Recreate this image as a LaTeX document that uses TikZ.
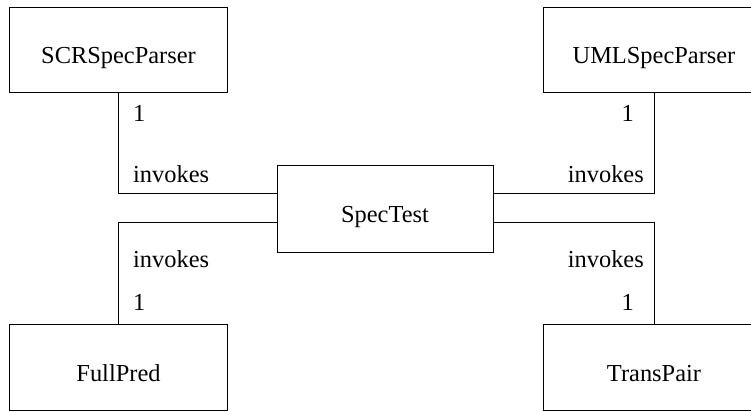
\documentclass[tikz,border=0pt]{standalone}
\usepackage{fontspec}
\setmainfont{Liberation Serif}
\begin{document}
\begin{tikzpicture}[x=1bp,y=-1bp,
  cls/.style={draw,line width=1bp,rectangle,inner sep=0pt,minimum height=85bp,
    text height=28bp,text depth=0bp,font=\fontsize{24.5}{29}\selectfont},
  lbl/.style={inner sep=0pt,font=\fontsize{24.5}{29}\selectfont},
  conn/.style={draw,line width=1bp}]
\useasboundingbox (0,0) rectangle (751,411);
\node[cls,minimum width=217bp] (scr) at (118.5,49.5) {SCRSpecParser};
\node[cls,minimum width=222bp] (uml) at (654,49.5) {UMLSpecParser};
\node[cls,minimum width=216bp,minimum height=87bp] (st) at (385,208.5) {SpecTest};
\node[cls,minimum width=217bp,minimum height=86bp] (fp) at (118.5,367) {FullPred};
\node[cls,minimum width=222bp,minimum height=86bp] (tp) at (654,367) {TransPair};
\draw[conn] (scr.south) |- ([yshift=15bp]st.west);
\draw[conn] (fp.north) |- ([yshift=-14bp]st.west);
\draw[conn] (uml.south) |- ([yshift=15bp]st.east);
\draw[conn] (tp.north) |- ([yshift=-14bp]st.east);
\node[lbl,anchor=base west] (l1) at (133,121) {1};
\node[lbl,anchor=base west] (l2) at (133,182) {invokes};
\node[lbl,anchor=base west] (l3) at (133,267) {invokes};
\node[lbl,anchor=base west] (l4) at (133,310) {1};
\node[lbl,anchor=base east] (r1) at (634,121) {1};
\node[lbl,anchor=base east] (r2) at (644,182) {invokes};
\node[lbl,anchor=base east] (r3) at (644,267) {invokes};
\node[lbl,anchor=base east] (r4) at (634,310) {1};
\end{tikzpicture}
\end{document}
